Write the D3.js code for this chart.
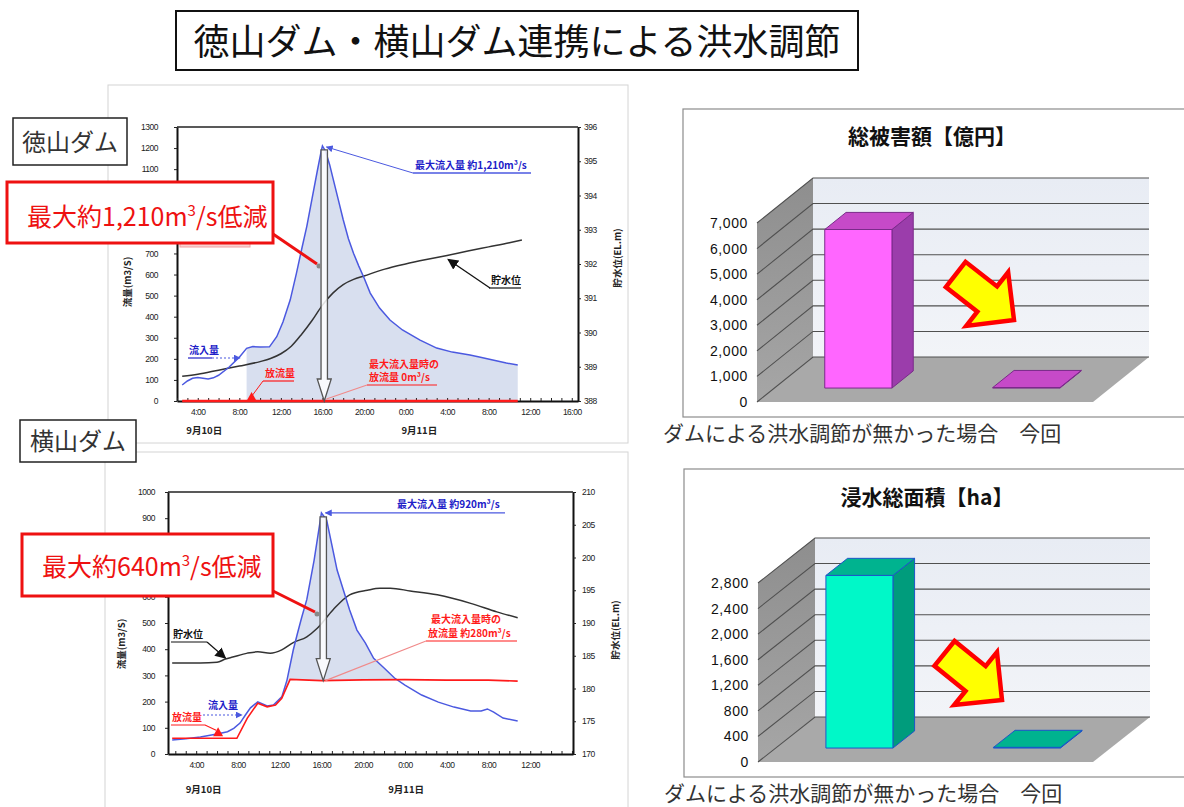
<!DOCTYPE html>
<html>
<head>
<meta charset="utf-8">
<script src="https://cdn.jsdelivr.net/npm/d3@7"></script>
<style>
  html, body { margin: 0; padding: 0; background: #fff; }
  svg { display: block; }
</style>
</head>
<body>
<script>
// ---------------- data ----------------
const pageTitle = "徳山ダム・横山ダム連携による洪水調節";
const damNames = ["徳山ダム", "横山ダム"];
const dateLabels = ["9月10日", "9月11日"];

// Hours are counted from 0:00 on 9/10. Flows in m3/s, reservoir level in EL.m.
// 徳山ダム
const tkInflowHours = [2.5,3,3.5,4,4.5,5,5.5,6,7,8,8.7,9.3,10,10.9,11.6,12.2,12.9,13.5,14,14.5,15,15.5,15.9,16,16.3,16.7,17,17.5,18,18.5,19,19.5,20,20.6,21.5,22.5,23.7,25.4,27,28.5,30.2,31.1,32.4,33.7,34.8];
const tkInflow      = [76,95,108,112,108,104,110,122,160,208,250,258,256,257,305,375,480,607,720,830,960,1090,1190,1210,1185,1120,1060,960,860,770,700,640,585,512,441,384,337,289,251,232,218,209,195,180,171];
const tkOutflowHours = [2.5, 34.8];
const tkOutflow      = [0, 0];
const tkLevelHours = [2.5,4,6,8,10,11,12,13,14,15,16,17,18,19,20,22,24,26,28,30,32,34,35.2];
const tkLevel      = [388.72,388.78,388.9,389.02,389.15,389.24,389.38,389.6,389.95,390.35,390.8,391.15,391.4,391.55,391.65,391.85,392.0,392.13,392.25,392.38,392.5,392.62,392.7];
const tkShade = [8.7, 34.8];
const tkPeakHour = 16, tkPeakInflow = 1210, tkPeakOutflow = 0;
const tkFlowTicks  = [0,100,200,300,400,500,600,700,800,900,1000,1100,1200,1300];
const tkLevelTicks = [388,389,390,391,392,393,394,395,396];
const tkTimeTicks  = [4,8,12,16,20,24,28,32,36,40];

// 横山ダム
const ykInflowHours = [1.7,3,4.4,6,7,7.6,8.2,8.7,9.2,9.9,10.8,11.4,12.2,12.7,13.3,13.7,14.1,14.6,15.3,16,16.5,17.5,18.7,19.4,20.2,21,21.9,23,24,25.6,27.2,28.7,30.3,31.3,31.9,32.5,33.4,34.8];
const ykInflow      = [53,58,65,76,85,98,118,148,176,199,183,187,218,282,397,460,520,590,740,920,893,702,550,473,424,365,332,290,263,225,198,179,164,164,172,160,137,126];
const ykOutflowHours = [1.7,7.9,8.9,9.9,10.8,11.6,12.2,13.0,16,20,24,28,32,34.8];
const ykOutflow      = [60,60,137,194,180,187,213,285,280,283,284,282,282,278];
const ykLevelHours = [1.7,4.4,6,6.8,7.5,8.9,9.9,11.1,12.2,13.3,14.6,15.6,17.1,18.7,20.4,21.6,22.6,24.5,27.1,30.3,32.8,34.8];
const ykLevel      = [183.9,183.9,184.0,184.5,184.8,185.4,185.6,185.4,185.9,187.0,187.9,189.2,192.0,194.3,195.0,195.3,195.3,194.9,194.3,193.0,191.7,190.8];
const ykShade = [12.2, 23.2];
const ykPeakHour = 16, ykPeakInflow = 920, ykPeakOutflow = 280;
const ykFlowTicks  = [0,100,200,300,400,500,600,700,800,900,1000];
const ykLevelTicks = [170,175,180,185,190,195,200,205,210];
const ykTimeTicks  = [4,8,12,16,20,24,28,32,36];

// Damage summary (3D column charts)
const caseLabels = ["ダムによる洪水調節が無かった場合", "今回"];
const damageValues = [6200, 20];     // 億円
const damageTicks  = [0,1000,2000,3000,4000,5000,6000,7000];
const floodValues  = [2700, 10];     // ha
const floodTicks   = [0,400,800,1200,1600,2000,2400,2800];

// ---------------- drawing ----------------
const JP = '"Noto Sans CJK JP", "Noto Sans", sans-serif';
const NUM = '"Liberation Sans", Arial, sans-serif';
const BLUE = "#4b59e0", RED = "#ff1a1a", FILL = "#d8dfef";

const svg = d3.select("body").append("svg")
  .attr("width", 1184).attr("height", 807)
  .style("font-family", JP);

const defs = svg.append("defs");
function marker(id, color, size) {
  defs.append("marker").attr("id", id)
    .attr("viewBox", "0 0 10 10").attr("refX", 9).attr("refY", 5)
    .attr("markerUnits", "userSpaceOnUse")
    .attr("markerWidth", size).attr("markerHeight", size)
    .attr("orient", "auto")
    .append("path").attr("d", "M0,0L10,5L0,10z").attr("fill", color);
}
marker("mBlue", BLUE, 7);
marker("mBlack", "#111", 11);

const sideGrad = defs.append("linearGradient").attr("id", "sideWall")
  .attr("x1", 0).attr("y1", 0).attr("x2", 0).attr("y2", 1);
sideGrad.append("stop").attr("offset", "0%").attr("stop-color", "#8e8e8e");
sideGrad.append("stop").attr("offset", "100%").attr("stop-color", "#a6a6a6");
const backGrad = defs.append("linearGradient").attr("id", "backWall")
  .attr("x1", 0).attr("y1", 0).attr("x2", 0).attr("y2", 1);
backGrad.append("stop").attr("offset", "0%").attr("stop-color", "#e8ecf4");
backGrad.append("stop").attr("offset", "100%").attr("stop-color", "#f2f4f8");

// title
svg.append("rect").attr("x", 176).attr("y", 11).attr("width", 682).attr("height", 59)
  .attr("fill", "#fff").attr("stroke", "#111").attr("stroke-width", 2);
svg.append("text").attr("x", 517).attr("y", 55).attr("text-anchor", "middle")
  .attr("font-size", 36).attr("fill", "#111").text(pageTitle);

// panel outlines of the two hydrographs
svg.append("rect").attr("x", 108).attr("y", 85).attr("width", 520).attr("height", 358)
  .attr("fill", "none").attr("stroke", "#d4d4d4");
svg.append("rect").attr("x", 105).attr("y", 452).attr("width", 523).attr("height", 370)
  .attr("fill", "none").attr("stroke", "#d4d4d4");

function series(hours, vals) { return hours.map((h, i) => ({ h, v: vals[i] })); }
function at(s, h) {
  if (h <= s[0].h) return s[0].v;
  if (h >= s[s.length - 1].h) return s[s.length - 1].v;
  for (let i = 0; i < s.length - 1; i++) {
    if (h >= s[i].h && h <= s[i + 1].h) {
      const t = (h - s[i].h) / (s[i + 1].h - s[i].h);
      return s[i].v + t * (s[i + 1].v - s[i].v);
    }
  }
}

function styleTicks(sel, size) {
  sel.selectAll("text").attr("font-family", NUM).attr("font-size", size)
    .attr("letter-spacing", -0.5).attr("fill", "#222");
  sel.selectAll(".tick line").attr("stroke", "#222");
  sel.select(".domain").attr("stroke", "#111").attr("stroke-width", 2);
}

function hydro(c) {
  const g = svg.append("g");
  const x = d3.scaleLinear().domain(c.xDomain).range([c.left, c.right]);
  const yQ = d3.scaleLinear().domain(d3.extent(c.qTicks)).range([c.bottom, c.top]);
  const yH = d3.scaleLinear().domain(d3.extent(c.hTicks)).range([c.bottom, c.top]);
  const inflow = series(c.inflowHours, c.inflow);
  const outflow = series(c.outflowHours, c.outflow);
  const level = series(c.levelHours, c.level);

  // stored volume (inflow above outflow)
  const hs = Array.from(new Set([c.shade[0], ...c.inflowHours, ...c.outflowHours, c.shade[1]]))
    .filter(h => h >= c.shade[0] && h <= c.shade[1]).sort((a, b) => a - b);
  const band = hs.map(h => {
    const i = at(inflow, h), o = at(outflow, h);
    return { h, lo: o, hi: Math.max(i, o) };
  });
  g.append("path").datum(band)
    .attr("d", d3.area().x(d => x(d.h)).y0(d => yQ(d.lo)).y1(d => yQ(d.hi)))
    .attr("fill", FILL);

  // frame top
  g.append("line").attr("x1", c.left).attr("x2", c.right).attr("y1", c.top).attr("y2", c.top)
    .attr("stroke", "#222").attr("stroke-width", 1.6);

  // axes (labels sitting under a call-out box are left blank)
  g.append("g").attr("transform", `translate(${c.left},0)`)
    .call(d3.axisLeft(yQ).tickValues(c.qTicks).tickSizeInner(3).tickSizeOuter(0)
      .tickPadding(c.qPad).tickFormat(v => c.qCovered.includes(v) ? "" : d3.format("d")(v)))
    .call(s => styleTicks(s, 8.5));
  g.append("g").attr("transform", `translate(${c.right},0)`)
    .call(d3.axisRight(yH).tickValues(c.hTicks).tickSizeInner(3).tickSizeOuter(0)
      .tickPadding(c.hPad).tickFormat(d3.format("d")))
    .call(s => styleTicks(s, 8.5));
  const hourTicks = d3.range(Math.ceil(c.xDomain[0]), Math.floor(c.xDomain[1]) + 1);
  g.append("g").attr("transform", `translate(0,${c.bottom})`)
    .call(d3.axisBottom(x).tickValues(hourTicks).tickSizeInner(-3).tickSizeOuter(0)
      .tickPadding(8)
      .tickFormat(h => c.timeTicks.includes(h) ? `${h % 24}:00` : ""))
    .call(s => styleTicks(s, 8.5));

  // date labels
  dateLabels.forEach((t, i) => {
    g.append("text").attr("x", x(c.dateHours[i])).attr("y", c.dateY)
      .attr("font-size", 9.5).attr("font-weight", "bold").attr("fill", "#222").text(t);
  });

  // axis titles
  g.append("text").attr("transform", `translate(${c.qTitle[0]},${c.qTitle[1]}) rotate(-90)`)
    .attr("text-anchor", "middle").attr("font-size", 9.5).attr("font-weight", "bold")
    .attr("fill", "#222").text("流量(m3/S)");
  g.append("text").attr("transform", `translate(${c.hTitle[0]},${c.hTitle[1]}) rotate(-90)`)
    .attr("text-anchor", "middle").attr("font-size", 9.5).attr("font-weight", "bold")
    .attr("fill", "#222").text("貯水位(EL.m)");

  // series
  g.append("path").datum(level)
    .attr("d", d3.line().x(d => x(d.h)).y(d => yH(d.v)).curve(d3.curveMonotoneX))
    .attr("fill", "none").attr("stroke", "#333").attr("stroke-width", 1.5);
  g.append("path").datum(inflow)
    .attr("d", d3.line().x(d => x(d.h)).y(d => yQ(d.v)))
    .attr("fill", "none").attr("stroke", BLUE).attr("stroke-width", 1.5);
  g.append("path").datum(outflow)
    .attr("d", d3.line().x(d => x(d.h)).y(d => yQ(d.v)))
    .attr("fill", "none").attr("stroke", RED).attr("stroke-width", c.outWidth);

  // hollow arrow from the peak inflow down to the outflow at that time
  const ax = x(c.peakHour) + 1.8;
  const yT = yQ(c.peakInflow) + 4, yB = yQ(c.peakOutflow);
  const sw = 3.2, hw = 7, hl = 22;
  g.append("polygon")
    .attr("points", [[ax - sw, yT], [ax + sw, yT], [ax + sw, yB - hl], [ax + hw, yB - hl],
      [ax, yB], [ax - hw, yB - hl], [ax - sw, yB - hl]].join(" "))
    .attr("fill", "#fff").attr("fill-opacity", 0.85)
    .attr("stroke", "#555").attr("stroke-width", 1.3);

  return { g, x, yQ, yH };
}

function txt(g, s, x, y, color, size = 10, weight = "bold") {
  return g.append("text").attr("x", x).attr("y", y).attr("font-size", size)
    .attr("font-weight", weight).attr("fill", color).text(s);
}
function ln(g, d, color, width = 1, extra = {}) {
  const p = g.append("path").attr("d", d).attr("fill", "none")
    .attr("stroke", color).attr("stroke-width", width);
  Object.entries(extra).forEach(([k, v]) => p.attr(k, v));
  return p;
}
function redTriangle(g, cx, cy) {
  g.append("path").attr("d", `M${cx - 5},${cy + 4}L${cx + 5},${cy + 4}L${cx},${cy - 5}Z`)
    .attr("fill", RED);
}
function callout(parts, bx, by, bw, bh, tx, ty, lx0, ly0, lx1, ly1) {
  const g = svg.append("g");
  ln(g, `M${lx0},${ly0}L${lx1},${ly1}`, "#ee1111", 3);
  g.append("circle").attr("cx", lx1 + 2).attr("cy", ly1 + 2).attr("r", 2.5).attr("fill", "#888");
  g.append("rect").attr("x", bx).attr("y", by).attr("width", bw).attr("height", bh)
    .attr("fill", "#fff").attr("stroke", "#ee1111").attr("stroke-width", 3);
  const t = g.append("text").attr("x", tx).attr("y", ty).attr("font-size", 25).attr("fill", "#ee1111");
  t.append("tspan").text(parts[0]);
  t.append("tspan").attr("font-size", 15).attr("dy", -10).text("3");
  t.append("tspan").attr("dy", 10).text(parts[1]);
}
function damBox(name, x, y, w, h) {
  svg.append("rect").attr("x", x).attr("y", y).attr("width", w).attr("height", h)
    .attr("fill", "#fff").attr("stroke", "#222").attr("stroke-width", 1.5);
  svg.append("text").attr("x", x + w / 2).attr("y", y + h / 2 + 9).attr("text-anchor", "middle")
    .attr("font-size", 24).attr("fill", "#333").text(name);
}

// ---- 徳山ダム hydrograph ----
const tk = hydro({
  left: 177, right: 578, top: 127, bottom: 401, xDomain: [2, 40.6],
  qTicks: tkFlowTicks, qCovered: [800, 900, 1000],
  hTicks: tkLevelTicks, timeTicks: tkTimeTicks,
  qPad: 16, hPad: 3, dateHours: [2.9, 23.6], dateY: 434,
  qTitle: [131, 282], hTitle: [621, 258],
  inflowHours: tkInflowHours, inflow: tkInflow,
  outflowHours: tkOutflowHours, outflow: tkOutflow,
  levelHours: tkLevelHours, level: tkLevel, shade: tkShade, outWidth: 2.6,
  peakHour: tkPeakHour, peakInflow: tkPeakInflow, peakOutflow: tkPeakOutflow
});
{
  const { g, x, yQ, yH } = tk;
  const f = d3.format(",");
  ln(g, `M413,173L${x(tkPeakHour) + 4},${yQ(tkPeakInflow) + 1}`, BLUE, 1, { "marker-end": "url(#mBlue)" });
  ln(g, "M413,173H531", BLUE, 1.4);
  txt(g, `最大流入量 約${f(tkPeakInflow)}m³/s`, 415, 169, "#2020c8", 10);

  txt(g, "貯水位", 491, 284, "#111", 10);
  ln(g, "M489,288H521", "#111", 1.2);
  ln(g, `M490,288L${x(28) + 1},${yH(392.25) + 4}`, "#111", 1.3, { "marker-end": "url(#mBlack)" });

  txt(g, "流入量", 189, 354, "#2020c8", 10);
  ln(g, "M188,358H212", "#2020c8", 1.2);
  ln(g, "M212,358H240", BLUE, 1.2, { "stroke-dasharray": "2,2", "marker-end": "url(#mBlue)" });

  txt(g, "放流量", 265, 377, RED, 10);
  ln(g, "M263,381H294", RED, 1.2);
  ln(g, `M263,381L${x(tkShade[0]) + 6},${yQ(0) - 6}`, RED, 1);
  redTriangle(g, x(tkShade[0]) + 5, yQ(0) - 4);

  ln(g, `M${x(tkPeakHour) + 4},${yQ(tkPeakOutflow) - 2}L367,385`, "#f08a8a", 1.2);
  txt(g, "最大流入量時の", 369, 368, RED, 10);
  txt(g, `放流量 ${tkPeakOutflow}m³/s`, 369, 381, RED, 10);
  ln(g, "M367,385H437", RED, 1.2);
}

// ---- 横山ダム hydrograph ----
const yk = hydro({
  left: 168, right: 573, top: 492, bottom: 754, xDomain: [1.3, 40.1],
  qTicks: ykFlowTicks, qCovered: [700, 800],
  hTicks: ykLevelTicks, timeTicks: ykTimeTicks,
  qPad: 10, hPad: 6, dateHours: [3.0, 22.4], dateY: 793,
  qTitle: [125, 644], hTitle: [619, 630],
  inflowHours: ykInflowHours, inflow: ykInflow,
  outflowHours: ykOutflowHours, outflow: ykOutflow,
  levelHours: ykLevelHours, level: ykLevel, shade: ykShade, outWidth: 1.6,
  peakHour: ykPeakHour, peakInflow: ykPeakInflow, peakOutflow: ykPeakOutflow
});
{
  const { g, x, yQ, yH } = yk;
  ln(g, `M505,${yQ(ykPeakInflow)}H${x(ykPeakHour) + 4}`, BLUE, 1.2, { "marker-end": "url(#mBlue)" });
  txt(g, `最大流入量 約${ykPeakInflow}m³/s`, 397, 508, "#2020c8", 10);

  ln(g, `M${x(ykPeakHour) + 4},${yQ(ykPeakOutflow)}L426,641`, "#f08a8a", 1.2);
  txt(g, "最大流入量時の", 431, 623, RED, 10);
  txt(g, `放流量 約${ykPeakOutflow}m³/s`, 428, 637, RED, 10);
  ln(g, "M426,641H517", RED, 1.2);

  txt(g, "貯水位", 173, 638, "#111", 10);
  ln(g, "M171,642H207", "#111", 1.2);
  ln(g, `M207,642L${x(6.8)},${yH(184.5) - 1}`, "#111", 1.2, { "marker-end": "url(#mBlack)" });

  txt(g, "流入量", 208, 709, "#2020c8", 10);
  ln(g, "M203,715H242", BLUE, 1.2, { "stroke-dasharray": "2,2", "marker-end": "url(#mBlue)" });

  txt(g, "放流量", 172, 721, RED, 10);
  ln(g, `M171,725H205L${x(6.1) - 2},${yQ(60) - 8}`, RED, 1.2);
  redTriangle(g, x(6.1), yQ(60) - 6);
}

// labels and call-outs on the hydrographs
svg.append("rect").attr("x", 180).attr("y", 241).attr("width", 70).attr("height", 6)
  .attr("fill", "#f8d2d2").attr("stroke", "#f0a0a0").attr("stroke-width", 1);
damBox(damNames[0], 13, 118, 114, 47);
damBox(damNames[1], 20, 420, 116, 42);
callout([`最大約${d3.format(",")(tkPeakInflow - tkPeakOutflow)}m`, "/s低減"],
  7, 182, 266, 61, 27, 226, 273, 234, 317, 264);
callout([`最大約${ykPeakInflow - ykPeakOutflow}m`, "/s低減"],
  22, 534, 251, 62, 42, 576, 273, 591, 315, 612);

// ---- 3D column charts ----
function chart3d(c) {
  const g = svg.append("g");
  g.append("rect").attr("x", c.frame[0]).attr("y", c.frame[1])
    .attr("width", c.frame[2]).attr("height", c.frame[3])
    .attr("fill", "#fff").attr("stroke", "#8c8c8c").attr("stroke-width", 1.2);
  g.append("text").attr("x", c.titleX).attr("y", c.titleY).attr("text-anchor", "middle")
    .attr("font-size", 21).attr("font-weight", "bold").attr("fill", "#111").text(c.title);

  const vmax = d3.max(c.ticks);
  const hz = d3.scaleLinear().domain([0, vmax]).range([0, c.wallH]);
  const O = c.origin, D = c.depth;
  const P = (u, v, d) => [O[0] + u + D[0] * d, O[1] + D[1] * d - hz(v)];
  const poly = pts => pts.map(p => p.join(",")).join(" ");
  const W = c.floorW;

  g.append("polygon").attr("points", poly([P(0, 0, 1), P(0, vmax, 1), P(W, vmax, 1), P(W, 0, 1)]))
    .attr("fill", "url(#backWall)");
  g.append("polygon").attr("points", poly([P(0, 0, 0), P(0, vmax, 0), P(0, vmax, 1), P(0, 0, 1)]))
    .attr("fill", "url(#sideWall)");
  g.append("polygon").attr("points", poly([P(0, 0, 0), P(W, 0, 0), P(W, 0, 1), P(0, 0, 1)]))
    .attr("fill", "#a9a9a9");

  c.ticks.forEach(v => {
    g.append("polyline").attr("points", poly([P(0, v, 0), P(0, v, 1), P(W, v, 1)]))
      .attr("fill", "none").attr("stroke", "#505050").attr("stroke-width", 1.1);
    const p = P(0, v, 0);
    g.append("text").attr("x", p[0] - 9).attr("y", p[1] + 5).attr("text-anchor", "end")
      .attr("font-family", NUM).attr("font-size", 14).attr("letter-spacing", 0.6)
      .attr("fill", "#111").text(d3.format(",")(v));
  });

  const xb = d3.scaleBand().domain(c.categories).range([0, W]).paddingInner(0.6).paddingOuter(0.3);
  const d0 = 0.31, d1 = 0.69;
  c.values.forEach((v, i) => {
    const u0 = xb(c.categories[i]), u1 = u0 + xb.bandwidth();
    const faces = [
      [[P(u1, 0, d0), P(u1, v, d0), P(u1, v, d1), P(u1, 0, d1)], c.side],
      [[P(u0, v, d0), P(u1, v, d0), P(u1, v, d1), P(u0, v, d1)], c.top],
      [[P(u0, 0, d0), P(u0, v, d0), P(u1, v, d0), P(u1, 0, d0)], c.front]
    ];
    faces.forEach(([pts, col]) => {
      g.append("polygon").attr("points", poly(pts)).attr("fill", col)
        .attr("stroke", c.stroke).attr("stroke-width", 1).attr("stroke-linejoin", "round");
    });
  });

  // "reduced" arrow
  const tip = [O[0] + c.arrowTip[0], O[1] + c.arrowTip[1]];
  const w = 16, Hh = 34, hl = 34, sl = 40;
  const local = [[0, 0], [-hl, -Hh], [-hl, -w], [-hl - sl, -w], [-hl - sl, w], [-hl, w], [-hl, Hh]];
  g.append("polygon").attr("points", poly(local))
    .attr("transform", `translate(${tip[0]},${tip[1]}) rotate(${c.arrowAngle})`)
    .attr("fill", "#ffff00").attr("stroke", "#ff0000").attr("stroke-width", 4.5)
    .attr("stroke-linejoin", "miter");

  g.append("text").attr("x", c.frame[0] - 20).attr("y", c.labelY)
    .attr("font-size", 21).attr("fill", "#333").text(c.categories.join("　"));
}

chart3d({
  frame: [683, 109, 520, 308], title: "総被害額【億円】", titleX: 932, titleY: 144,
  origin: [757, 402], depth: [56, -45], floorW: 336, wallH: 179,
  ticks: damageTicks, values: damageValues, categories: caseLabels,
  front: "#ff66ff", side: "#9b3dab", top: "#c64ac8", stroke: "#7a2a8a",
  arrowTip: [257, -82], arrowAngle: 38, labelY: 441
});
chart3d({
  frame: [684, 469, 520, 308], title: "浸水総面積【ha】", titleX: 927, titleY: 505,
  origin: [758, 762], depth: [57, -45], floorW: 335, wallH: 179,
  ticks: floodTicks, values: floodValues, categories: caseLabels,
  front: "#00f8c8", side: "#009c7c", top: "#00b38f", stroke: "#1d56c8",
  arrowTip: [244, -62], arrowAngle: 39, labelY: 801
});
</script>
</body>
</html>
